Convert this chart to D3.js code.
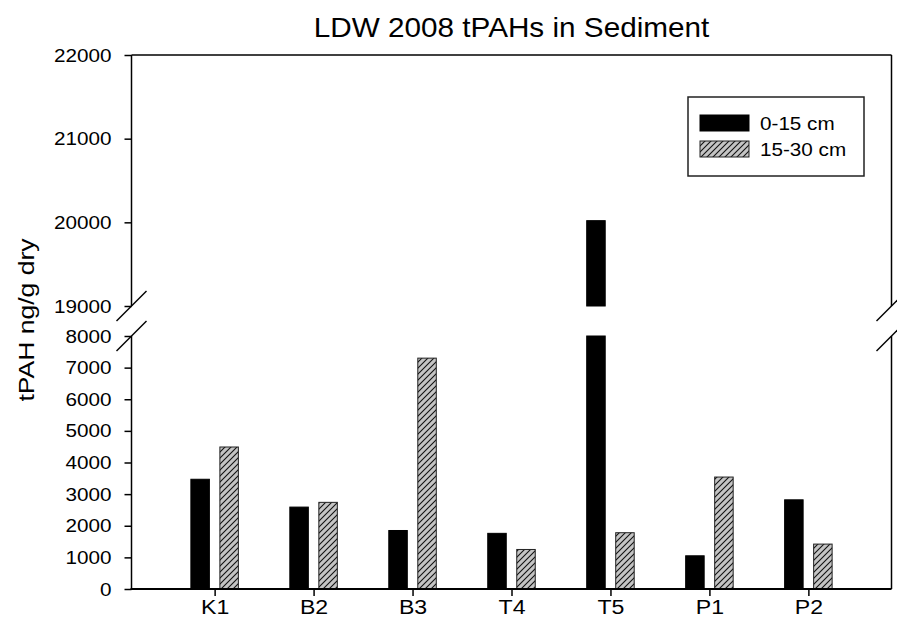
<!DOCTYPE html>
<html>
<head>
<meta charset="utf-8">
<script src="https://cdn.jsdelivr.net/npm/d3@7"></script>
<style>
  html, body { margin: 0; padding: 0; background: #fff; }
  svg { display: block; }
  text { font-family: "Liberation Sans", Arial, sans-serif; fill: #000; }
</style>
</head>
<body>
<svg id="chart" width="897" height="617"></svg>
<script>
// Sampling stations and total PAH concentrations (ng/g dry weight)
const categories = ["K1", "B2", "B3", "T4", "T5", "P1", "P2"];
const seriesNames = ["0-15 cm", "15-30 cm"];
const shallow = [3470, 2590, 1850, 1760, 20020, 1050, 2820];   // 0-15 cm
const deep    = [4490, 2740, 7300, 1250, 1780, 3540, 1420];    // 15-30 cm
const lowerTicks = [0, 1000, 2000, 3000, 4000, 5000, 6000, 7000, 8000];
const upperTicks = [19000, 20000, 21000, 22000];
const titleText = "LDW 2008 tPAHs in Sediment";
const yLabelText = "tPAH ng/g dry";

const svg = d3.select("#chart");
const plotL = 131.5, plotR = 891.5, plotT = 55, plotB = 589;
const breakLow = 336, breakHigh = 306;
const stretch = 1.1;  // glyph widening for all labels

// Two-segment value axis: 0–8000 below the break, 19000–22000 above it
const yLow  = d3.scaleLinear().domain([0, 8000]).range([plotB, breakLow]);
const yHigh = d3.scaleLinear().domain([19000, 22000]).range([breakHigh, plotT]);
const x = d3.scalePoint().domain(categories).range([plotL, plotR]).padding(0.84);

// Hatch pattern for the 15-30 cm series
const defs = svg.append("defs");
const pat = defs.append("pattern")
  .attr("id", "hatch").attr("patternUnits", "userSpaceOnUse")
  .attr("width", 6).attr("height", 6);
pat.append("rect").attr("width", 6).attr("height", 6).attr("fill", "#c4c4c4");
pat.append("path")
  .attr("d", "M0,6 L6,0 M-1.5,1.5 L1.5,-1.5 M4.5,7.5 L7.5,4.5")
  .attr("stroke", "#111").attr("stroke-width", 1.1);

// Bars
const barW = 18.5, offset = 14.5;
const series = [
  { values: shallow, dx: -offset, fill: "#000", stroke: "#000" },
  { values: deep,    dx:  offset, fill: "url(#hatch)", stroke: "#222" }
];
const barG = svg.append("g");
series.forEach(s => {
  s.values.forEach((v, i) => {
    const cx = x(categories[i]) + s.dx;
    const segs = [];
    if (v <= 8000) {
      segs.push([yLow(v), yLow(0)]);
    } else {
      segs.push([yLow(8000), yLow(0)]);
      if (v > 19000) segs.push([yHigh(v), yHigh(19000)]);
    }
    segs.forEach(([y0, y1]) => {
      barG.append("rect")
        .attr("x", cx - barW / 2).attr("y", y0)
        .attr("width", barW).attr("height", y1 - y0)
        .attr("fill", s.fill).attr("stroke", s.stroke).attr("stroke-width", 1);
    });
  });
});

// Frame with breaks on both sides
const frame = svg.append("g").attr("stroke", "#000").attr("fill", "none");
frame.append("line").attr("x1", plotL).attr("x2", plotR).attr("y1", plotT).attr("y2", plotT).attr("stroke-width", 1.5);
frame.append("line").attr("x1", plotL - 1).attr("x2", plotR).attr("y1", plotB).attr("y2", plotB).attr("stroke-width", 2);
[plotL, plotR].forEach(xx => {
  frame.append("line").attr("x1", xx).attr("x2", xx).attr("y1", plotT).attr("y2", breakHigh).attr("stroke-width", 1.5);
  frame.append("line").attr("x1", xx).attr("x2", xx).attr("y1", breakLow).attr("y2", plotB).attr("stroke-width", 1.5);
  [breakHigh, breakLow].forEach(yy => {
    frame.append("line")
      .attr("x1", xx - 15).attr("y1", yy + 15)
      .attr("x2", xx + 15).attr("y2", yy - 15)
      .attr("stroke-width", 1.5);
  });
});

// Axes
function styleAxis(g, fontSize) {
  g.select(".domain").remove();
  g.selectAll(".tick line").attr("stroke", "#000").attr("stroke-width", 1.5);
  g.selectAll(".tick text").attr("font-size", fontSize).attr("fill", "#000")
    .attr("font-family", "'Liberation Sans', Arial, sans-serif");
}
function stretchYTicks(g) {
  g.selectAll(".tick text").each(function () {
    d3.select(this).attr("x", 0).attr("text-anchor", "end")
      .attr("transform", `translate(-20,0) scale(${stretch},1)`);
  });
}

const axLow = svg.append("g").attr("transform", `translate(${plotL},0)`)
  .call(d3.axisLeft(yLow).tickValues(lowerTicks).tickSize(7).tickSizeOuter(0).tickFormat(d3.format("d")));
styleAxis(axLow, 18.8); stretchYTicks(axLow);

const axHigh = svg.append("g").attr("transform", `translate(${plotL},0)`)
  .call(d3.axisLeft(yHigh).tickValues(upperTicks).tickSize(7).tickSizeOuter(0).tickFormat(d3.format("d")));
styleAxis(axHigh, 18.8); stretchYTicks(axHigh);

const axX = svg.append("g").attr("transform", `translate(0,${plotB})`)
  .call(d3.axisBottom(x).tickSize(7).tickSizeOuter(0));
styleAxis(axX, 21);
axX.selectAll(".tick text").attr("y", 0).attr("dy", 0)
  .attr("transform", `translate(0,24.5) scale(${stretch},1)`);

// Title
svg.append("text")
  .attr("text-anchor", "middle").attr("font-size", 27)
  .attr("transform", `translate(${(plotL + plotR) / 2},36.5) scale(${stretch},1)`)
  .text(titleText);

// Value axis label
svg.append("text")
  .attr("text-anchor", "middle").attr("font-size", 22.5)
  .attr("transform", `translate(34,320) rotate(-90) scale(1.18,1)`)
  .text(yLabelText);

// Legend
const lg = svg.append("g");
lg.append("rect").attr("x", 688).attr("y", 97).attr("width", 176).attr("height", 79)
  .attr("fill", "#fff").attr("stroke", "#222").attr("stroke-width", 1.5);
const fills = ["#000", "url(#hatch)"];
const strokes = ["#000", "#222"];
seriesNames.forEach((name, i) => {
  const yy = 115 + i * 26;
  lg.append("rect").attr("x", 700).attr("y", yy).attr("width", 49).attr("height", 16)
    .attr("fill", fills[i]).attr("stroke", strokes[i]).attr("stroke-width", 1);
  lg.append("text").attr("font-size", 18.8)
    .attr("transform", `translate(760,${yy + 14.5}) scale(${stretch},1)`)
    .text(name);
});
</script>
</body>
</html>
